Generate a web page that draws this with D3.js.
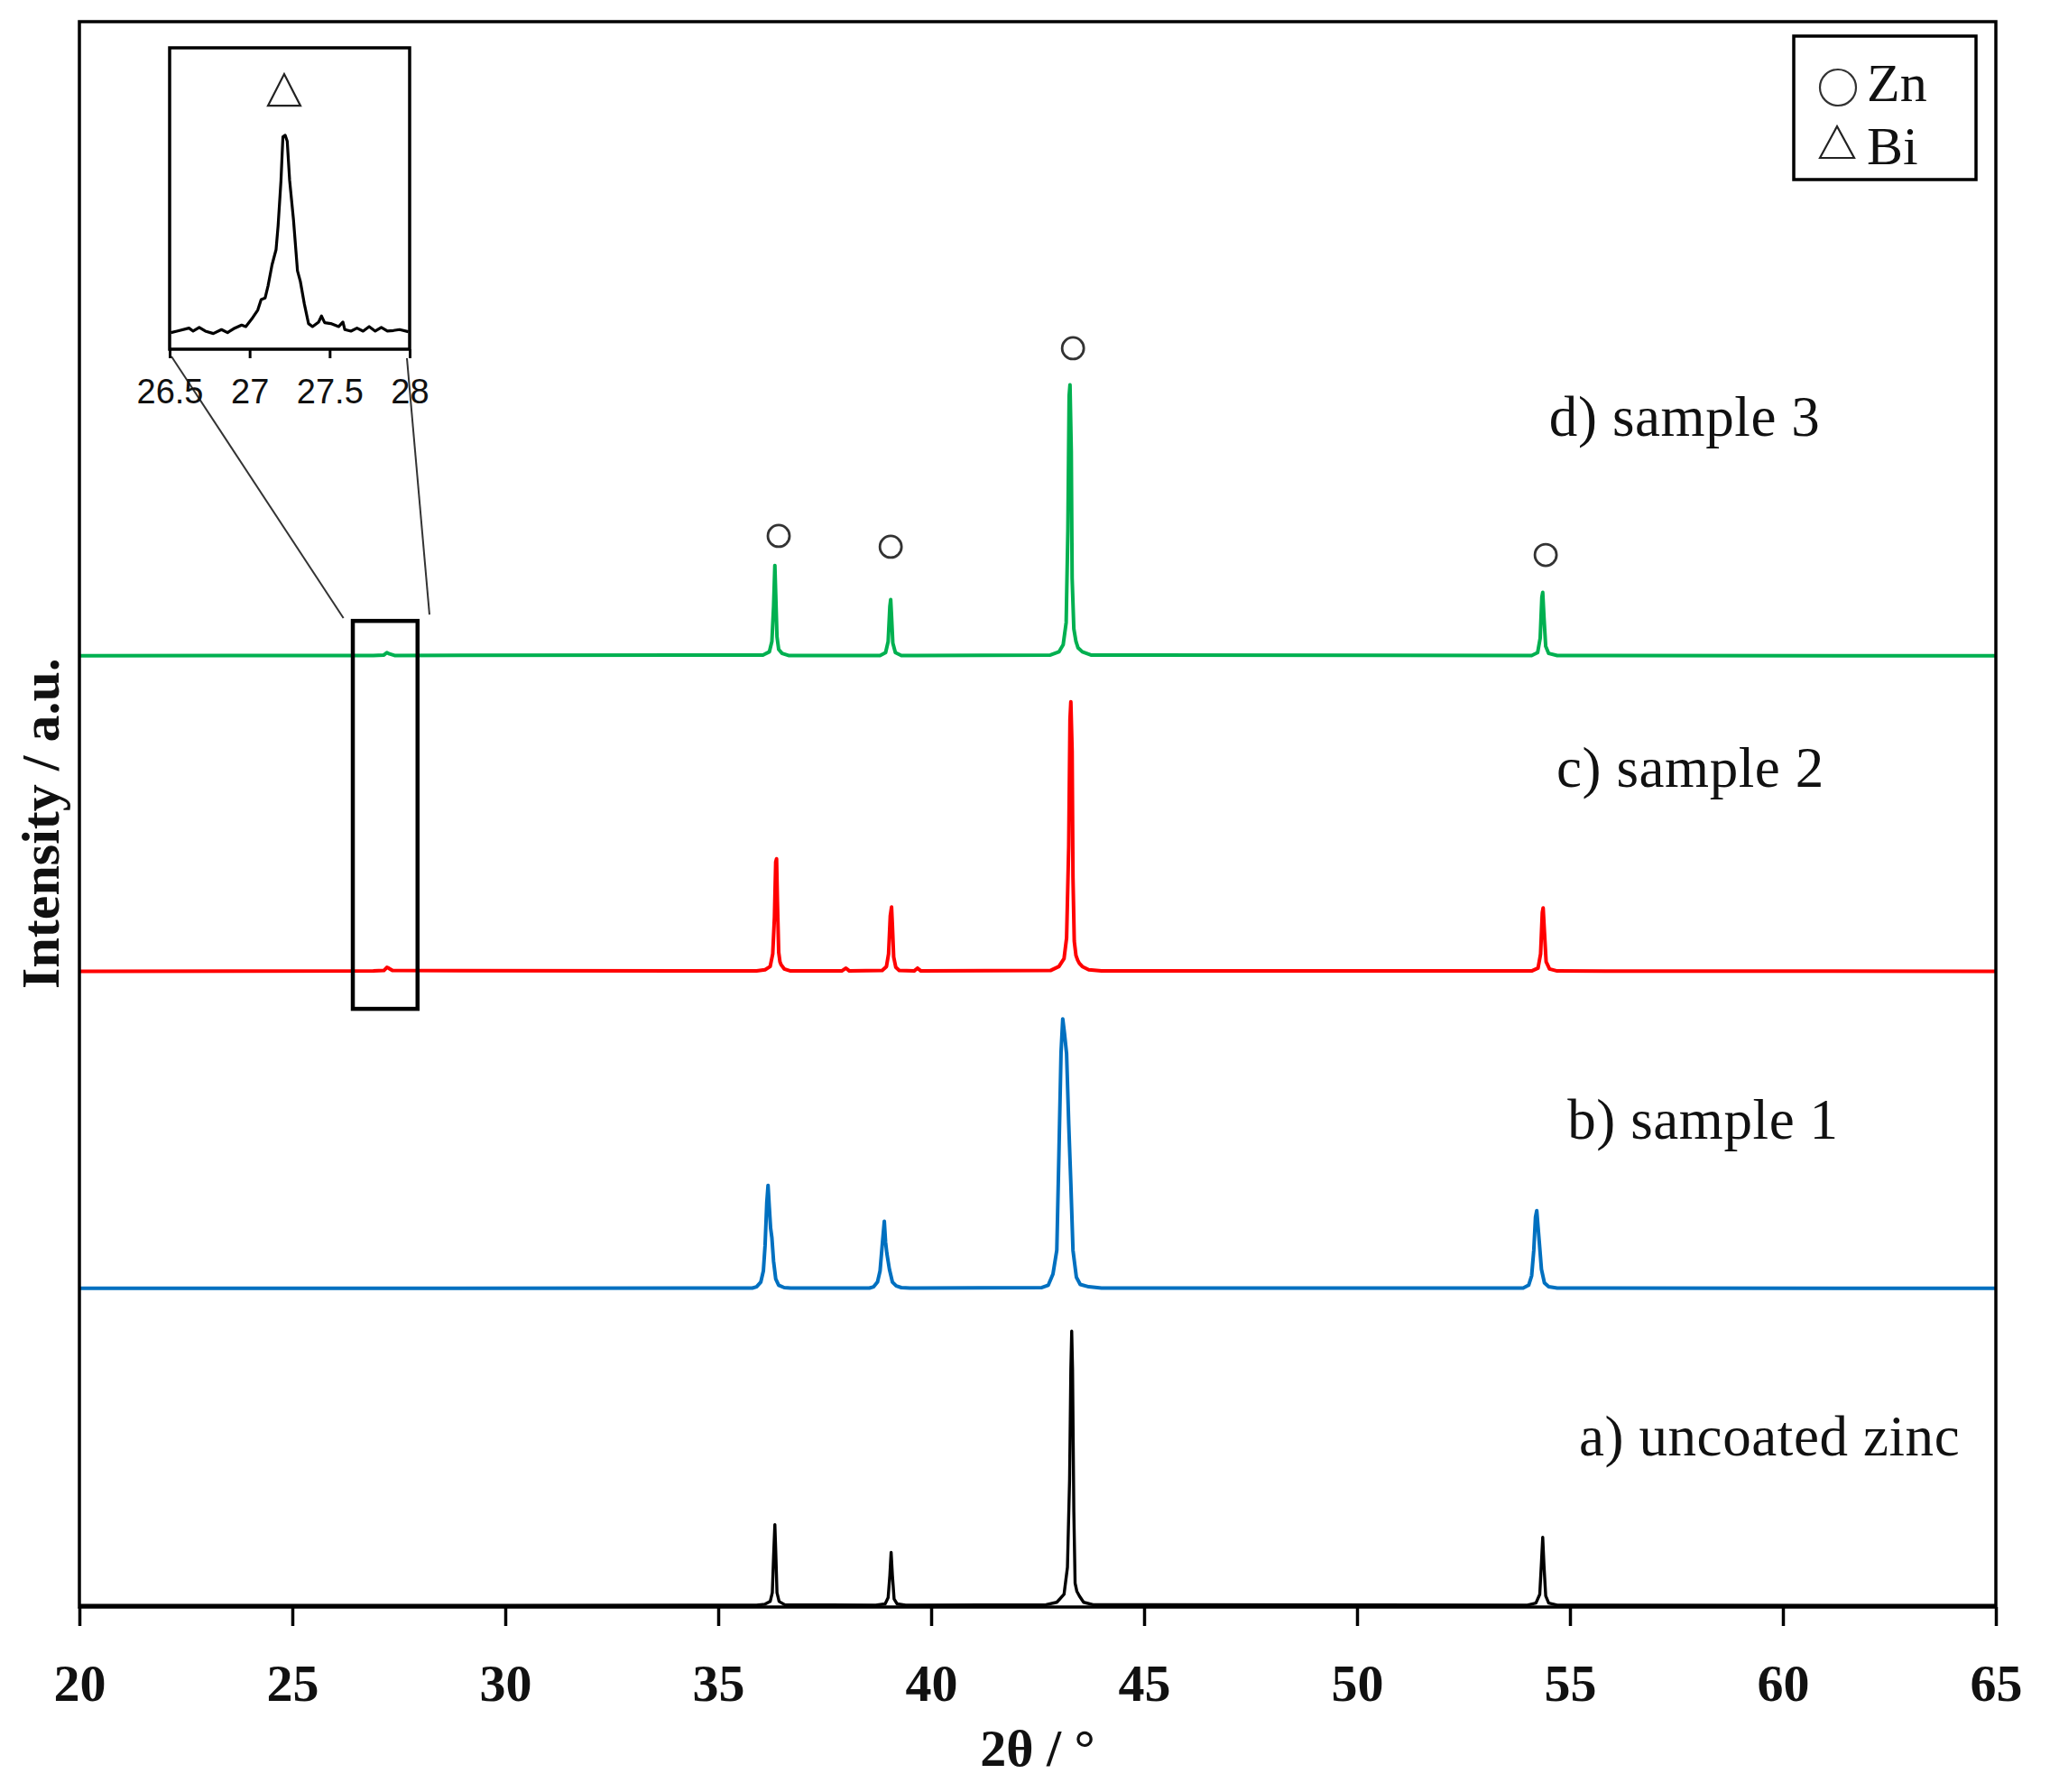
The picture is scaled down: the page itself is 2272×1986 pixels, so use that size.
<!DOCTYPE html>
<html>
<head>
<meta charset="utf-8">
<script src="https://cdn.jsdelivr.net/npm/d3@7"></script>
<style>
  body { margin: 0; background: #fff; }
  text { font-family: "Liberation Serif", "Times New Roman", serif; fill: #111; }
</style>
</head>
<body>
<div id="chart"></div>
<script>
// x-ray diffraction patterns, 2θ in degrees vs intensity (a.u.)
const xTicks = [20, 25, 30, 35, 40, 45, 50, 55, 60, 65];
const insetTicks = [26.5, 27, 27.5, 28];

const seriesNames = ["a) uncoated zinc", "b) sample 1", "c) sample 2", "d) sample 3"];
const seriesColors = ["#000000", "#0070c0", "#ff0000", "#00b050"];
const seriesOffsets = [0, 20, 40, 59.9];

const uncoated = [
  [20, 0.1], [30, 0.1], [35.9, 0.12],
  [36.1, 0.18], [36.22, 0.35], [36.27, 0.9], [36.3, 3.2], [36.33, 5.2], [36.35, 3.6], [36.38, 0.9], [36.43, 0.35], [36.56, 0.15],
  [38.7, 0.12], [38.92, 0.2], [38.99, 0.6], [39.03, 2.0], [39.06, 3.45], [39.09, 2.0], [39.13, 0.5], [39.2, 0.2], [39.4, 0.12],
  [42.7, 0.15], [42.95, 0.3], [43.12, 0.8], [43.2, 2.5], [43.25, 8], [43.28, 15], [43.3, 17.4], [43.32, 15], [43.35, 6], [43.38, 1.5], [43.42, 1.0], [43.48, 0.7], [43.58, 0.3], [43.8, 0.15],
  [54.0, 0.12], [54.2, 0.25], [54.29, 0.8], [54.33, 2.8], [54.36, 4.4], [54.39, 2.6], [54.43, 0.7], [54.5, 0.25], [54.7, 0.12],
  [65, 0.1]
];

const sample1 = [
  [20, 0.1], [35.8, 0.12],
  [35.9, 0.2], [36.0, 0.5], [36.06, 1.2], [36.1, 2.8], [36.14, 5.5], [36.17, 6.6], [36.2, 5.2], [36.23, 3.9], [36.26, 3.3], [36.3, 1.8], [36.35, 0.7], [36.42, 0.3], [36.55, 0.15], [36.7, 0.12],
  [38.55, 0.12], [38.65, 0.2], [38.74, 0.5], [38.8, 1.2], [38.85, 2.8], [38.9, 4.33], [38.93, 3.0], [38.96, 2.3], [39.02, 1.3], [39.09, 0.5], [39.18, 0.25], [39.3, 0.15], [39.5, 0.12],
  [42.6, 0.15], [42.75, 0.3], [42.86, 1.0], [42.95, 2.5], [43.0, 8.6], [43.05, 15], [43.09, 17.1], [43.13, 16.2], [43.18, 14.9], [43.23, 10.5], [43.28, 6.7], [43.33, 2.5], [43.41, 0.8], [43.5, 0.35], [43.7, 0.2], [44.0, 0.12],
  [53.9, 0.12], [54.03, 0.3], [54.1, 0.9], [54.15, 2.5], [54.19, 4.6], [54.22, 5.0], [54.25, 4.0], [54.28, 3.0], [54.33, 1.3], [54.4, 0.45], [54.5, 0.2], [54.7, 0.12],
  [65, 0.1]
];

const sample2 = [
  [20, 0.1], [26.9, 0.12], [27.15, 0.15], [27.22, 0.35], [27.26, 0.3], [27.35, 0.15], [35.9, 0.12],
  [36.1, 0.2], [36.22, 0.4], [36.28, 1.2], [36.32, 3.5], [36.35, 7.0], [36.37, 7.2], [36.39, 4.5], [36.42, 1.3], [36.45, 0.7], [36.48, 0.5], [36.55, 0.25], [36.7, 0.12],
  [37.9, 0.12], [38.0, 0.3], [38.08, 0.12],
  [38.85, 0.15], [38.95, 0.4], [39.0, 1.2], [39.04, 3.6], [39.07, 4.15], [39.09, 3.0], [39.12, 1.0], [39.17, 0.35], [39.25, 0.15],
  [39.6, 0.12], [39.68, 0.3], [39.76, 0.12],
  [42.8, 0.15], [43.0, 0.4], [43.12, 0.9], [43.18, 2.2], [43.23, 8], [43.26, 16], [43.28, 17.1], [43.31, 14], [43.33, 6], [43.36, 2], [43.4, 1.1], [43.44, 0.8], [43.48, 0.6], [43.55, 0.4], [43.7, 0.2], [44.0, 0.12],
  [54.1, 0.12], [54.25, 0.3], [54.31, 1.2], [54.35, 3.8], [54.37, 4.1], [54.4, 2.6], [54.44, 0.7], [54.52, 0.25], [54.7, 0.12],
  [65, 0.1]
];

const sample3 = [
  [20, 0.1], [26.9, 0.12], [27.15, 0.15], [27.22, 0.3], [27.28, 0.22], [27.4, 0.12],
  [36.05, 0.15], [36.2, 0.35], [36.26, 1.0], [36.3, 3.2], [36.33, 5.8], [36.35, 4.0], [36.38, 1.3], [36.42, 0.5], [36.5, 0.25], [36.65, 0.12],
  [38.8, 0.12], [38.93, 0.3], [38.99, 1.0], [39.03, 3.2], [39.05, 3.64], [39.07, 2.6], [39.1, 0.9], [39.16, 0.3], [39.3, 0.12],
  [42.8, 0.15], [43.0, 0.35], [43.1, 0.8], [43.17, 2.2], [43.21, 8], [43.24, 16.5], [43.26, 17.19], [43.29, 13], [43.31, 5], [43.35, 1.8], [43.4, 1.0], [43.45, 0.6], [43.55, 0.35], [43.75, 0.15],
  [54.1, 0.12], [54.24, 0.3], [54.3, 1.2], [54.34, 3.8], [54.36, 4.1], [54.39, 2.5], [54.43, 0.7], [54.5, 0.25], [54.7, 0.12],
  [65, 0.1]
];

// enlarged Bi reflection of sample 3 (inset)
const biPeak = [
  [26.508, 5.5], [26.546, 6], [26.621, 7], [26.647, 6], [26.685, 7.2], [26.723, 6], [26.773, 5.2], [26.824, 6.5],
  [26.862, 5.5], [26.9, 6.8], [26.95, 8], [26.976, 7.5], [27.013, 10], [27.051, 13], [27.072, 16.5], [27.097, 17],
  [27.115, 21], [27.14, 28], [27.165, 33], [27.178, 41], [27.196, 56], [27.208, 70.5], [27.222, 71], [27.235, 69],
  [27.25, 56], [27.274, 43], [27.299, 26], [27.317, 22.5], [27.342, 15], [27.368, 8.5], [27.393, 7.5], [27.431, 9],
  [27.449, 11], [27.469, 8.8], [27.507, 8.5], [27.557, 7.5], [27.583, 9], [27.595, 6.5], [27.633, 6], [27.671, 7],
  [27.709, 6], [27.747, 7.5], [27.785, 6], [27.823, 7.2], [27.861, 6], [27.899, 6.2], [27.937, 6.5], [27.992, 5.8]
];

// phase markers (2θ, stacked intensity) and sample label anchors
const zincMarks = [[36.42, 67.56], [39.05, 66.88], [43.33, 79.4], [54.43, 66.36]];
const biMark = [27.216, 80.8, 91.3];
const labelAnchors = [[55.21, 9.56], [54.94, 29.54], [54.68, 51.74], [54.51, 73.88]];
const zoomBox = [26.42, 27.94, 37.73, 62.2];
const legendItems = ["Zn", "Bi"];

const seriesData = [uncoated, sample1, sample2, sample3];

const width = 2272, height = 1986;
const margin = { left: 88, right: 60, top: 24, bottom: 205 };

const svg = d3.select("#chart").append("svg")
  .attr("width", width)
  .attr("height", height)
  .style("background", "#fff");

const x = d3.scaleLinear().domain([20, 65]).range([margin.left, width - margin.right]);
const y = d3.scaleLinear().domain([0, 100]).range([height - margin.bottom, margin.top]);

svg.append("clipPath").attr("id", "plotClip")
  .append("rect")
  .attr("x", x(20)).attr("y", y(100))
  .attr("width", x(65) - x(20)).attr("height", y(0) - y(100));

// stacked patterns
const line = d3.line()
  .x(d => x(d[0]))
  .y(d => y(d[1]));

const curves = svg.append("g").attr("clip-path", "url(#plotClip)");
seriesData.forEach((data, i) => {
  curves.append("path")
    .datum(data.map(d => [d[0], d[1] + seriesOffsets[i]]))
    .attr("fill", "none")
    .attr("stroke", seriesColors[i])
    .attr("stroke-width", i === 0 ? 3.4 : 4)
    .attr("stroke-linejoin", "round")
    .attr("d", line);
});

// frame and x axis
svg.append("rect")
  .attr("x", x(20)).attr("y", y(100))
  .attr("width", x(65) - x(20)).attr("height", y(0) - y(100))
  .attr("fill", "none").attr("stroke", "#000").attr("stroke-width", 3.5);

const xAxis = svg.append("g")
  .attr("transform", `translate(0,${y(0)})`)
  .call(d3.axisBottom(x).tickValues(xTicks).tickSize(21).tickSizeOuter(0));
xAxis.select(".domain").remove();
xAxis.selectAll(".tick line").attr("stroke", "#000").attr("stroke-width", 3.5);
xAxis.selectAll(".tick text")
  .attr("y", 104).attr("dy", 0)
  .style("font-family", "'Liberation Serif', serif")
  .style("font-weight", "bold")
  .style("font-size", "58px")
  .attr("fill", "#111");

svg.append("text")
  .attr("x", (x(20) + x(65)) / 2)
  .attr("y", 1957)
  .attr("text-anchor", "middle")
  .style("font-weight", "bold")
  .style("font-size", "58px")
  .text("2θ / °");

svg.append("text")
  .attr("transform", `translate(65,${(y(0) + y(100)) / 2 + 10}) rotate(-90)`)
  .attr("text-anchor", "middle")
  .style("font-weight", "bold")
  .style("font-size", "60px")
  .text("Intensity / a.u.");

// sample labels
svg.selectAll(".sample-label")
  .data(seriesNames)
  .join("text")
  .attr("class", "sample-label")
  .attr("x", (d, i) => x(labelAnchors[i][0]))
  .attr("y", (d, i) => y(labelAnchors[i][1]))
  .style("font-size", "63px")
  .style("letter-spacing", "0.6px")
  .text(d => d);

// Zn markers
svg.selectAll(".zn-mark")
  .data(zincMarks)
  .join("circle")
  .attr("class", "zn-mark")
  .attr("cx", d => x(d[0]))
  .attr("cy", d => y(d[1]))
  .attr("r", 12)
  .attr("fill", "none")
  .attr("stroke", "#333")
  .attr("stroke-width", 2.8);

// box round the Bi reflection
svg.append("rect")
  .attr("x", x(zoomBox[0])).attr("y", y(zoomBox[3]))
  .attr("width", x(zoomBox[1]) - x(zoomBox[0]))
  .attr("height", y(zoomBox[2]) - y(zoomBox[3]))
  .attr("fill", "none").attr("stroke", "#000").attr("stroke-width", 4.5);

// inset
const ix = d3.scaleLinear().domain([26.5, 28]).range([188, 454]);
const iy = d3.scaleLinear().domain([0, 100]).range([387, 53]);

// connector lines from the inset to the box
svg.append("line")
  .attr("x1", ix(26.5) + 2).attr("y1", iy(0) + 8)
  .attr("x2", x(26.2)).attr("y2", y(62.38))
  .attr("stroke", "#333").attr("stroke-width", 2);
svg.append("line")
  .attr("x1", ix(28) - 3).attr("y1", iy(0) + 10)
  .attr("x2", x(28.22)).attr("y2", y(62.6))
  .attr("stroke", "#333").attr("stroke-width", 2);

const inset = svg.append("g");
inset.append("rect")
  .attr("x", ix(26.5)).attr("y", iy(100))
  .attr("width", ix(28) - ix(26.5)).attr("height", iy(0) - iy(100))
  .attr("fill", "#fff").attr("stroke", "#000").attr("stroke-width", 3.5);

inset.append("path")
  .datum(biPeak)
  .attr("fill", "none")
  .attr("stroke", "#000")
  .attr("stroke-width", 3.2)
  .attr("stroke-linejoin", "round")
  .attr("d", d3.line().x(d => ix(d[0])).y(d => iy(d[1])));

const insetAxis = inset.append("g")
  .attr("transform", `translate(0,${iy(0)})`)
  .call(d3.axisBottom(ix).tickValues(insetTicks).tickSize(10).tickSizeOuter(0).tickFormat(d3.format("")));
insetAxis.select(".domain").remove();
insetAxis.selectAll(".tick line").attr("stroke", "#000").attr("stroke-width", 3);
insetAxis.selectAll(".tick text")
  .attr("y", 60).attr("dy", 0)
  .style("font-family", "'Liberation Sans', Arial, sans-serif")
  .style("font-size", "38px")
  .attr("fill", "#111");

inset.append("path")
  .attr("d", `M${ix(biMark[0]) - 18},${iy(biMark[1])}L${ix(biMark[0])},${iy(biMark[2])}L${ix(biMark[0]) + 18},${iy(biMark[1])}Z`)
  .attr("fill", "none")
  .attr("stroke", "#222")
  .attr("stroke-width", 2.2);

// legend
const legend = svg.append("g").attr("transform", "translate(1988,40)");
legend.append("rect")
  .attr("width", 202).attr("height", 159)
  .attr("fill", "#fff").attr("stroke", "#000").attr("stroke-width", 3.5);
legend.append("circle")
  .attr("cx", 49).attr("cy", 57).attr("r", 20)
  .attr("fill", "none").attr("stroke", "#333").attr("stroke-width", 2.2);
legend.append("path")
  .attr("d", "M29,135L48,100L67,135Z")
  .attr("fill", "none").attr("stroke", "#222").attr("stroke-width", 2.2);
legend.selectAll(".legend-text")
  .data(legendItems)
  .join("text")
  .attr("class", "legend-text")
  .attr("x", 81)
  .attr("y", (d, i) => 72 + i * 70)
  .style("font-size", "60px")
  .text(d => d);
</script>
</body>
</html>
